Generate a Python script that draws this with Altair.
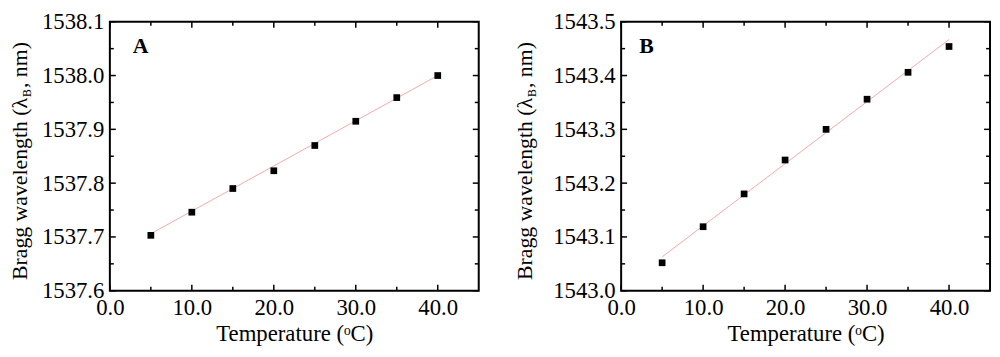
import altair as alt
import pandas as pd

# ---- data ----
temps = [5, 10, 15, 20, 25, 30, 35, 40]
wl_a = [1537.703, 1537.746, 1537.790, 1537.823, 1537.870, 1537.915, 1537.959, 1538.000]
wl_b = [1543.052, 1543.119, 1543.180, 1543.243, 1543.300, 1543.356, 1543.406, 1543.454]

fit_t = [5, 40]
fit_a = [1537.706, 1538.000]
fit_b = [1543.063, 1543.467]

x_major = [0, 10, 20, 30, 40]
x_minor = [5, 15, 25, 35]
y_major_a = [1537.6, 1537.7, 1537.8, 1537.9, 1538.0, 1538.1]
y_minor_a = [1537.65, 1537.75, 1537.85, 1537.95, 1538.05]
y_major_b = [1543.0, 1543.1, 1543.2, 1543.3, 1543.4, 1543.5]
y_minor_b = [1543.05, 1543.15, 1543.25, 1543.35, 1543.45]

panel_labels = ["A", "B"]
label_t = [2.8, 2.2]
label_w = [1538.042, 1543.442]

x_title = "Temperature (\u1d52C)"
y_title_parts = ["Bragg wavelength (\u03bb", "B", ", nm)"]

FONT = "Liberation Serif"
W, H = 373, 272
MAJ, MIN = 6, 4


def panel(vals, fit_vals, ydom, ymaj, ymin, lab, lt, lw, title_x):
    xs = alt.Scale(domain=[0, 45], nice=False, zero=False)
    ys = alt.Scale(domain=ydom, nice=False, zero=False)

    fit = alt.Chart(pd.DataFrame({"t": fit_t, "w": fit_vals})).mark_line(
        color="#f4a9a9", strokeWidth=1
    ).encode(
        x=alt.X("t:Q", scale=xs, axis=alt.Axis(
            values=x_major, format=".1f", title=x_title, ticks=False, grid=False,
            domain=False, labelFont=FONT, labelFontSize=23, labelColor="black",
            labelPadding=6, titleFont=FONT, titleFontSize=23, titleFontWeight="normal",
            titleColor="black", titlePadding=3, labelFlush=False)),
        y=alt.Y("w:Q", scale=ys, axis=alt.Axis(
            values=ymaj, format=".1f", title=None, ticks=False, grid=False,
            domain=False, labelFont=FONT, labelFontSize=23, labelColor="black",
            labelPadding=6, labelFlush=False)),
    )

    pts = alt.Chart(pd.DataFrame({"t": temps, "w": vals})).mark_square(
        size=46, color="black", opacity=1
    ).encode(x=alt.X("t:Q", scale=xs), y=alt.Y("w:Q", scale=ys))

    tick_layers = []
    for arr, ln in ((x_major, MAJ), (x_minor, MIN)):
        d = pd.DataFrame({"t": arr})
        tick_layers.append(alt.Chart(d).mark_rule(color="black", strokeWidth=1.5).encode(
            x=alt.X("t:Q", scale=xs), y=alt.value(H), y2=alt.value(H - ln)))
        tick_layers.append(alt.Chart(d).mark_rule(color="black", strokeWidth=1.5).encode(
            x=alt.X("t:Q", scale=xs), y=alt.value(0), y2=alt.value(ln)))
    for arr, ln in ((ymaj, MAJ), (ymin, MIN)):
        d = pd.DataFrame({"w": arr})
        tick_layers.append(alt.Chart(d).mark_rule(color="black", strokeWidth=1.5).encode(
            y=alt.Y("w:Q", scale=ys), x=alt.value(0), x2=alt.value(ln)))
        tick_layers.append(alt.Chart(d).mark_rule(color="black", strokeWidth=1.5).encode(
            y=alt.Y("w:Q", scale=ys), x=alt.value(W), x2=alt.value(W - ln)))

    letter = alt.Chart(pd.DataFrame({"t": [lt], "w": [lw], "s": [lab]})).mark_text(
        font=FONT, fontSize=22, fontWeight="bold", align="left", baseline="alphabetic",
        color="black"
    ).encode(x=alt.X("t:Q", scale=xs), y=alt.Y("w:Q", scale=ys), text="s:N")

    # rotated y title with a subscript
    t1 = alt.Chart(pd.DataFrame({"s": [y_title_parts[0]]})).mark_text(
        font=FONT, fontSize=22, angle=270, align="right", baseline="alphabetic", color="black"
    ).encode(x=alt.value(title_x), y=alt.value(77), text="s:N")
    t2 = alt.Chart(pd.DataFrame({"s": [y_title_parts[1]]})).mark_text(
        font=FONT, fontSize=12, angle=270, align="left", baseline="alphabetic", color="black"
    ).encode(x=alt.value(title_x + 4), y=alt.value(76), text="s:N")
    t3 = alt.Chart(pd.DataFrame({"s": [y_title_parts[2]]})).mark_text(
        font=FONT, fontSize=22, angle=270, align="left", baseline="alphabetic", color="black"
    ).encode(x=alt.value(title_x), y=alt.value(67), text="s:N")

    return alt.layer(fit, pts, *tick_layers, letter, t1, t2, t3).properties(
        width=W, height=H,
        view=alt.ViewBackground(stroke="black", strokeWidth=2, fill="white"),
    )


pa = panel(wl_a, fit_a, [1537.6, 1538.1], y_major_a, y_minor_a,
           panel_labels[0], label_t[0], label_w[0], -84)
pb = panel(wl_b, fit_b, [1543.0, 1543.5], y_major_b, y_minor_b,
           panel_labels[1], label_t[1], label_w[1], -90)

chart = alt.hconcat(pa, pb, spacing=33).properties(
    padding={"left": 0, "top": 0, "right": 0, "bottom": 0}
).configure(background="white").configure_view(stroke="black", strokeWidth=2)

chart.save("out.html", embed_options={"renderer": "svg", "actions": False})
